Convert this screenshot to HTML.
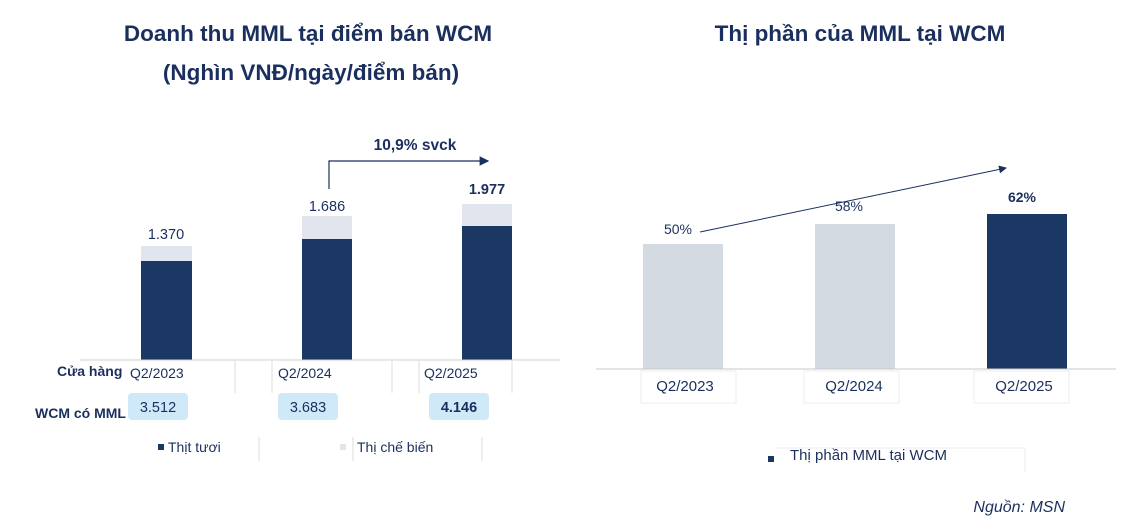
<!DOCTYPE html>
<html><head><meta charset="utf-8"><style>
body{margin:0;width:1130px;height:518px;background:#fff;overflow:hidden;font-family:"Liberation Sans",sans-serif;}
</style></head><body>
<svg width="1130" height="518" xmlns="http://www.w3.org/2000/svg" font-family="Liberation Sans, sans-serif" fill="#1b2f5e">
<defs><marker id="ah" markerWidth="8" markerHeight="8" refX="7" refY="4" orient="auto"><path d="M0,0 L8,4 L0,8 z" fill="#1b2f5e"/></marker></defs>
<text x="308" y="41" font-size="22.5" font-weight="bold" text-anchor="middle">Doanh thu MML tại điểm bán WCM</text>
<text x="311" y="80" font-size="22.5" font-weight="bold" text-anchor="middle">(Nghìn VNĐ/ngày/điểm bán)</text>
<text x="860" y="41" font-size="22.5" font-weight="bold" text-anchor="middle">Thị phần của MML tại WCM</text>
<rect x="141" y="246" width="51" height="15" fill="#e0e5ee"/><rect x="141" y="261" width="51" height="99" fill="#1b3764"/>
<rect x="302" y="216" width="50" height="23" fill="#e0e5ee"/><rect x="302" y="239" width="50" height="121" fill="#1b3764"/>
<rect x="462" y="204" width="50" height="22" fill="#e0e5ee"/><rect x="462" y="226" width="50" height="134" fill="#1b3764"/>
<line x1="80" y1="360" x2="560" y2="360" stroke="#d0d0d0"/>
<text x="166" y="239" font-size="14.5" text-anchor="middle">1.370</text>
<text x="327" y="211" font-size="14.5" text-anchor="middle">1.686</text>
<text x="487" y="194" font-size="14.5" font-weight="bold" text-anchor="middle">1.977</text>
<polyline points="329,189 329,161 488,161" fill="none" stroke="#1b2f5e" stroke-width="1.2" marker-end="url(#ah)"/>
<text x="415" y="150" font-size="15.5" font-weight="bold" text-anchor="middle">10,9% svck</text>
<g stroke="#ddd"><line x1="235" y1="361" x2="235" y2="393"/><line x1="272" y1="361" x2="272" y2="393"/><line x1="392" y1="361" x2="392" y2="393"/><line x1="419" y1="361" x2="419" y2="393"/><line x1="512" y1="361" x2="512" y2="393"/><line x1="259" y1="437" x2="259" y2="461"/><line x1="353" y1="437" x2="353" y2="461"/><line x1="482" y1="437" x2="482" y2="461"/></g>
<text x="57" y="376" font-size="14" font-weight="bold">Cửa hàng</text>
<text x="130" y="378" font-size="14">Q2/2023</text><text x="278" y="378" font-size="14">Q2/2024</text><text x="424" y="378" font-size="14">Q2/2025</text>
<text x="35" y="418" font-size="14" font-weight="bold">WCM có MML</text>
<rect x="128" y="393" width="60" height="27" rx="4" fill="#cfe9f8"/><rect x="278" y="393" width="60" height="27" rx="4" fill="#cfe9f8"/><rect x="429" y="393" width="60" height="27" rx="4" fill="#cfe9f8"/>
<text x="158" y="412" font-size="14.5" text-anchor="middle">3.512</text><text x="308" y="412" font-size="14.5" text-anchor="middle">3.683</text><text x="459" y="412" font-size="14.5" font-weight="bold" text-anchor="middle">4.146</text>
<rect x="158" y="444" width="6" height="6" fill="#1b3764"/><text x="168" y="452" font-size="14">Thịt tươi</text>
<rect x="340" y="444" width="6" height="6" fill="#e0e5ee"/><text x="357" y="452" font-size="14">Thị chế biến</text>
<rect x="643" y="244" width="80" height="125" fill="#d3dae1"/>
<rect x="815" y="224" width="80" height="145" fill="#d3dae1"/>
<rect x="987" y="214" width="80" height="155" fill="#1b3764"/>
<line x1="596" y1="369" x2="1116" y2="369" stroke="#c8c8c8"/>
<text x="678" y="234" font-size="14" text-anchor="middle">50%</text>
<text x="849" y="211" font-size="14" text-anchor="middle">58%</text>
<text x="1022" y="202" font-size="14" font-weight="bold" text-anchor="middle">62%</text>
<line x1="700" y1="232" x2="1006" y2="168" stroke="#1b2f5e" stroke-width="1" marker-end="url(#ah)"/>
<g fill="none" stroke="#ececec"><rect x="641" y="371" width="95" height="32"/><rect x="804" y="371" width="95" height="32"/><rect x="974" y="371" width="95" height="32"/><polyline points="775,448 1025,448 1025,472"/></g>
<text x="685" y="391" font-size="15" text-anchor="middle">Q2/2023</text><text x="854" y="391" font-size="15" text-anchor="middle">Q2/2024</text><text x="1024" y="391" font-size="15" text-anchor="middle">Q2/2025</text>
<rect x="768" y="456" width="6" height="6" fill="#1b3764"/><text x="790" y="460" font-size="15">Thị phần MML tại WCM</text>
<text x="1065" y="512" font-size="16" font-style="italic" text-anchor="end">Nguồn: MSN</text>
</svg>
</body></html>
